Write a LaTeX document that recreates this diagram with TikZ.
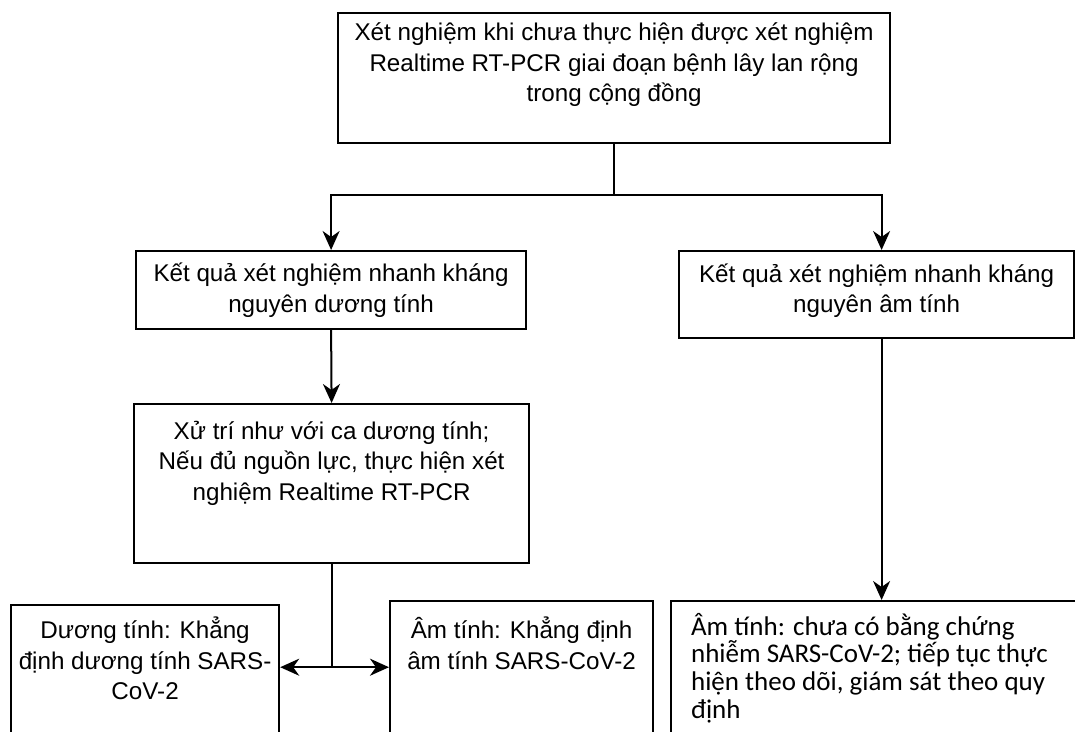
\documentclass[tikz,border=0pt]{standalone}
\usepackage{fontspec}
\setmainfont{Liberation Sans}
\newfontfamily\calibrifont{Carlito}
\usetikzlibrary{arrows.meta}

\tikzset{
  boks/.style={draw, line width=2.2pt, inner sep=0pt, anchor=north west, font=\fontsize{24.2}{30.5}\selectfont},
  kant/.style={line width=2pt},
  pil/.style={line width=2pt, -{Stealth[length=19pt, width=17pt, inset=6pt]}}
}

\begin{document}
\begin{tikzpicture}[x=1pt, y=1pt]
    \useasboundingbox (0,0) rectangle (1075,-731);
    \fill[white] (0,0) rectangle (1075,-731);
    % Hộp
    \node[boks] (xn) at (337,-12) {\parbox[c][130pt][t]{552pt}{\centering\vspace{10pt}Xét nghiệm khi chưa thực hiện được xét nghiệm\\ Realtime RT-PCR giai đoạn bệnh lây lan rộng\\ trong cộng đồng}};
    \node[boks] (kq1) at (135,-250) {\parbox[c][78pt][c]{390pt}{\centering Kết quả xét nghiệm nhanh kháng\\ nguyên dương tính}};
    \node[boks] (kq2) at (678,-250) {\parbox[c][87pt][c]{395pt}{\centering Kết quả xét nghiệm nhanh kháng\\ nguyên âm tính\vspace{8pt}}};
    \node[boks] (xt) at (133,-403) {\parbox[c][159pt][t]{395pt}{\centering\vspace{17pt}Xử trí như với ca dương tính;\\ Nếu đủ nguồn lực, thực hiện xét\\ nghiệm Realtime RT-PCR}};
    \node[boks] (dt) at (10,-604) {\parbox[c][141pt][t]{268pt}{\centering\vspace{12pt}Dương tính: Khẳng\\ định dương tính SARS-\\ CoV-2}};
    \node[boks] (at) at (389,-600) {\parbox[c][145pt][t]{263pt}{\centering\vspace{16pt}Âm tính: Khẳng định\\ âm tính SARS-CoV-2}};
    \node[boks, font=\calibrifont\fontsize{27}{27.7}\selectfont] (am) at (670,-600) {\parbox[c][145pt][t]{420pt}{\raggedright\vspace{12pt}\hspace*{20pt}Âm tính: chưa có bằng chứng\\ \hspace*{20pt}nhiễm SARS-CoV-2; tiếp tục thực\\ \hspace*{20pt}hiện theo dõi, giám sát theo quy\\ \hspace*{20pt}định}};

    % Mũi tên
    \draw[kant] (xn.south) -- ++(0,-51) coordinate (tach);
    \draw[pil] (tach) -| (kq1.north);
    \draw[pil] (tach) -| ([xshift=5pt]kq2.north);
    \draw[pil] (kq1.south) -- (xt.north);
    \draw[kant] (xt.south) -- ++(0,-103) coordinate (nhanh);
    \draw[pil] (nhanh) -- (dt.east |- nhanh);
    \draw[pil] (nhanh) -- (at.west |- nhanh);
    \draw[pil] ([xshift=5pt]kq2.south) -- ([xshift=5pt]kq2.south |- am.north);
\end{tikzpicture}
\end{document}
